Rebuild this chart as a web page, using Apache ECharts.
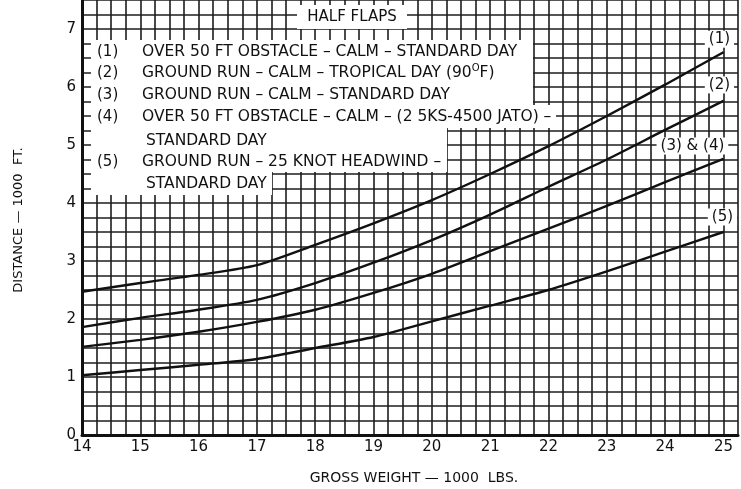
<!DOCTYPE html>
<html><head><meta charset="utf-8">
<script src="https://cdn.jsdelivr.net/npm/echarts@6/dist/echarts.min.js"></script>
<style>html,body{margin:0;padding:0;background:#fff}#c{width:741px;height:489px}</style>
</head><body><div id="c"></div>
<script>
var weights = [14,15,16,17,18,19,20,21,22,23,24,25];
var curve1 = [2.47,2.62,2.76,2.93,3.28,3.65,4.05,4.50,4.98,5.50,6.04,6.60];
var curve2 = [1.86,2.02,2.16,2.33,2.62,2.97,3.36,3.80,4.28,4.75,5.26,5.76];
var curve34 = [1.52,1.64,1.78,1.95,2.16,2.45,2.78,3.17,3.56,3.95,4.36,4.76];
var curve5 = [1.03,1.12,1.21,1.31,1.50,1.69,1.96,2.23,2.50,2.82,3.16,3.50];
var endLabels = ['(1)','(2)','(3) & (4)','(5)'];
var legendNums = ['(1)','(2)','(3)','(4)','','(5)',''];
var legendTexts = [
  'OVER 50 FT OBSTACLE \u2013 CALM \u2013 STANDARD DAY',
  'GROUND RUN \u2013 CALM \u2013 TROPICAL DAY (90{s|O}F)',
  'GROUND RUN \u2013 CALM \u2013 STANDARD DAY',
  'OVER 50 FT OBSTACLE \u2013 CALM \u2013 (2 5KS-4500 JATO) \u2013',
  'STANDARD DAY',
  'GROUND RUN \u2013 25 KNOT HEADWIND \u2013',
  'STANDARD DAY'
];
var title = 'HALF FLAPS';
var xName = 'GROSS WEIGHT \u2014 1000  LBS.';
var yName = 'DISTANCE \u2014 1000  FT.';

var LFONT = 'DejaVu Sans, sans-serif';
var chart = echarts.init(document.getElementById('c'), null, {renderer:'canvas'});
var labelOffsets = [[-4,0],[-4,-3],[-31,0],[-1,-2]];
function mk(vals, idx){
  var d = weights.map(function(w,i){ return [w, vals[i]]; });
  var last = d.length-1;
  d[last] = {value: d[last], symbol:'circle', symbolSize:1,
    label:{show:true, position:'top', distance:4, offset:labelOffsets[idx],
    formatter: endLabels[idx], color:'#111', fontSize:15, fontFamily:LFONT,
    backgroundColor:'#fff', padding:[1,4]}};
  return {type:'line', data:d, smooth:0.25, symbol:'none', showSymbol:true, z:5,
    itemStyle:{color:'#111', opacity:1},
    lineStyle:{color:'#111', width:2.4}, label:{show:false}};
}
var gridLine = {show:true, lineStyle:{color:'#1c1c1c', width:1.6}};
var graphics = [];
var rects = [[91,40,442,66],[91,105,465,23],[91,128,356,44],[91,172,181,23],[297,5,110,24]];
rects.forEach(function(r){
  graphics.push({type:'rect', z:100, shape:{x:r[0],y:r[1],width:r[2],height:r[3]}, style:{fill:'#fff'}});
});
var rowY = [52,73,95,117,141,162,184];
var rich = {s:{fontSize:10, fontFamily:LFONT, fill:'#111', verticalAlign:'top', padding:[0,0,9,0]}};
legendTexts.forEach(function(t,i){
  if (legendNums[i]) graphics.push({type:'text', z:101, x:97, y:rowY[i], style:{text:legendNums[i], fill:'#111', font:'15px '+LFONT, textVerticalAlign:'middle'}});
  graphics.push({type:'text', z:101, x:(i===4||i===6)?146:142, y:rowY[i], style:{text:t, fill:'#111', font:'15.5px '+LFONT, textVerticalAlign:'middle', rich:rich}});
});
graphics.push({type:'text', z:101, x:352, y:17, style:{text:title, fill:'#111', font:'15px '+LFONT, textAlign:'center', textVerticalAlign:'middle'}});
graphics.push({type:'text', z:101, x:414, y:478, style:{text:xName, fill:'#111', font:'14px '+LFONT, textAlign:'center', textVerticalAlign:'middle'}});
graphics.push({type:'text', z:101, x:19, y:220, rotation:Math.PI/2, style:{text:yName, fill:'#111', font:'13px '+LFONT, textAlign:'center', textVerticalAlign:'middle'}});

chart.setOption({
  animation:false,
  backgroundColor:'#fff',
  grid:{left:82, right:0, top:0, bottom:54},
  xAxis:{type:'value', min:14, max:25.25, interval:0.25,
    axisLine:{show:true, onZero:false, lineStyle:{color:'#111', width:3}},
    axisTick:{show:false}, splitLine:gridLine,
    axisLabel:{color:'#111', fontSize:15, fontFamily:LFONT, margin:5,
      formatter:function(v){ return Math.abs(v-Math.round(v))<1e-6 && v<=25 ? String(Math.round(v)) : ''; }}},
  yAxis:{type:'value', min:0, max:7.5, interval:0.25,
    axisLine:{show:true, lineStyle:{color:'#111', width:3}},
    axisTick:{show:false}, splitLine:gridLine,
    axisLabel:{color:'#111', fontSize:15, fontFamily:LFONT, margin:6,
      formatter:function(v){ return Math.abs(v-Math.round(v))<1e-6 && v<7.5 ? String(Math.round(v)) : ''; }}},
  series:[mk(curve1,0), mk(curve2,1), mk(curve34,2), mk(curve5,3)],
  graphic:graphics
});
</script></body></html>
